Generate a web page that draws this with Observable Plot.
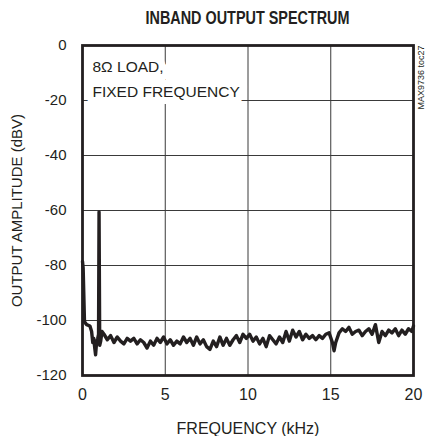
<!DOCTYPE html>
<html><head><meta charset="utf-8">
<script src="https://cdn.jsdelivr.net/npm/d3@7"></script>
<script src="https://cdn.jsdelivr.net/npm/@observablehq/plot@0.6"></script>
<style>
body{margin:0;background:#fff;width:425px;height:439px;overflow:hidden;font-family:"Liberation Sans",Arial,sans-serif;color:#231f20;}
#title{height:32px;box-sizing:border-box;padding:8px 12px 0 82px;text-align:center;font-weight:bold;font-size:18px;line-height:20px;}
#title span{display:inline-block;transform:scaleX(0.8);}
</style>
</head><body>
<div id="title"><span>INBAND OUTPUT SPECTRUM</span></div>
<div id="chart"></div>
<script>
// frequency (kHz)
const freq = [0.00,0.04,0.12,0.25,0.45,0.55,0.62,0.68,0.74,0.79,0.85,0.92,0.97,1.00,1.04,1.10,1.18,
 1.3,1.5,1.7,1.9,2.1,2.3,2.5,2.7,2.9,3.1,3.3,3.5,3.7,3.9,4.1,4.3,4.5,4.7,4.9,
 5.1,5.3,5.5,5.7,5.9,6.1,6.3,6.5,6.7,6.9,7.1,7.3,7.5,7.7,7.9,8.1,8.3,8.5,8.7,8.9,
 9.1,9.3,9.5,9.7,9.9,10.1,10.3,10.5,10.7,10.9,11.1,11.3,11.5,11.7,11.9,12.1,12.3,12.5,12.7,12.9,
 13.1,13.3,13.5,13.7,13.9,14.1,14.3,14.5,14.7,14.9,15.1,15.2,15.3,15.5,15.7,15.9,16.1,16.3,16.5,16.7,16.9,
 17.1,17.3,17.5,17.7,17.9,18.1,18.3,18.5,18.7,18.9,19.1,19.3,19.5,19.7,19.9,20.0];
// output amplitude (dBV)
const amplitude = [-78.5,-81,-100.5,-101.5,-102,-104,-108,-106.5,-110,-112.5,-108,-106.5,-105,-60.5,-109,-107.5,-104,
 -105,-107,-105.5,-108,-106,-107.5,-108.5,-106.5,-107.5,-106.5,-108.5,-107,-108,-110,-107.5,-109,-106.5,-108,-106,
 -108.5,-107,-109,-107.5,-108.5,-106,-108,-106.5,-109,-106,-108.5,-107,-109.5,-110.5,-107.5,-109.5,-106,-109,-106.5,-109,
 -107,-105.5,-108,-105,-106.5,-105,-107.5,-106,-108.5,-106.5,-109.5,-105.5,-107,-108.5,-106,-108,-104,-107.5,-103.5,-106,
 -104,-107,-105,-106.5,-105.5,-107,-105.5,-106.5,-105,-104.5,-108,-111,-108,-104.5,-103,-104,-102.5,-105,-104,-103.5,-105.5,
 -104,-103,-105,-101.5,-108,-104,-105.5,-103.5,-104.5,-103,-105.5,-103.5,-105,-103,-104,-102];
const xTicks = [0,5,10,15,20];
const yTicks = [0,-20,-40,-60,-80,-100,-120];
const xGrid = [5,10,15];
const yGrid = [-20,-40,-60,-80,-100];
const note = ["8Ω LOAD,\nFIXED FREQUENCY"];
const tag = ["MAX9736 toc27"];

const data = freq.map((f,i)=>({f, a: amplitude[i]}));
const ink = "#231f20";
const chart = Plot.plot({
  width: 425, height: 404,
  marginTop: 13, marginBottom: 61, marginLeft: 82, marginRight: 12,
  style: {fontSize: "16px", fontFamily: '"Liberation Sans",Arial,sans-serif', color: ink, background: "white"},
  x: {domain: [0,20], ticks: xTicks, tickFormat: d => String(d), tickSize: 0, tickPadding: 13, label: "FREQUENCY (kHz)", labelAnchor: "center", labelArrow: "none"},
  y: {domain: [-120,0], ticks: yTicks, tickFormat: d => String(d), tickSize: 0, tickPadding: 16, label: null},
  marks: [
    Plot.gridX(xGrid, {stroke: "#3a3a3a", strokeOpacity: 1, strokeWidth: 1}),
    Plot.gridY(yGrid, {stroke: "#3a3a3a", strokeOpacity: 1, strokeWidth: 1}),
    Plot.axisY({ticks: yTicks, tickFormat: d => String(d), tickSize: 0, tickPadding: 16, label: "OUTPUT AMPLITUDE (dBV)", labelAnchor: "center", labelOffset: 71, labelArrow: "none", fontSize: 15}),
    Plot.text(note, {frameAnchor: "top-left", textAnchor: "start", lineAnchor: "top", dx: 10, dy: 9, lineHeight: 1.6, fontSize: 15.5, fill: ink, stroke: "white", strokeWidth: 14}),
    Plot.line(data, {x: "f", y: "a", stroke: ink, strokeWidth: 3.4, strokeLinejoin: "round"}),
    Plot.frame({stroke: ink, strokeWidth: 2.8}),
    Plot.text(tag, {frameAnchor: "top-right", rotate: -90, textAnchor: "end", lineAnchor: "middle", dx: 8, fontSize: 9, fill: ink})
  ]
});
document.getElementById("chart").append(chart);
</script>
</body></html>
